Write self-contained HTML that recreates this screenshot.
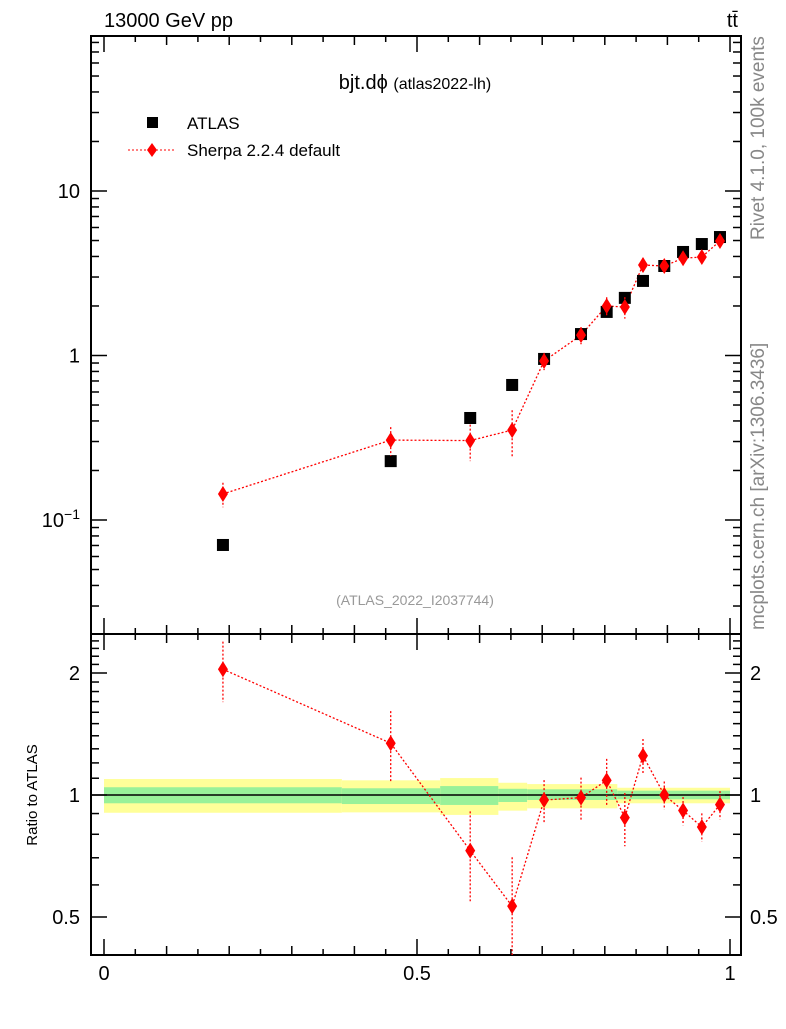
<!DOCTYPE html>
<html><head><meta charset="utf-8"><style>
body{margin:0;background:#fff}
svg text{font-family:"Liberation Sans",sans-serif}
</style></head><body>
<svg id="c" width="786" height="1024" xmlns="http://www.w3.org/2000/svg">
<rect width="786" height="1024" fill="#fff"/>
<g id="bands"></g><g id="axes"></g><g id="marks"></g>
<text x="104" y="27" font-size="20">13000 GeV pp</text>
<text x="738" y="27" font-size="20" text-anchor="end">tt̄</text>
<text x="415" y="89" font-size="20" text-anchor="middle">bjt.dϕ <tspan font-size="16">(atlas2022-lh)</tspan></text>
<rect x="147" y="117" width="11" height="11" fill="#000"/>
<text x="187" y="129" font-size="17">ATLAS</text>
<line x1="128" y1="150" x2="176" y2="150" stroke="red" stroke-dasharray="2,2"/>
<path d="M152 143 L157 150 L152 157 L147 150Z" fill="red"/>
<text x="187" y="156" font-size="17">Sherpa 2.2.4 default</text>
<text x="415" y="605" font-size="14" fill="#999" text-anchor="middle">(ATLAS_2022_I2037744)</text>
<text transform="translate(764,240) rotate(-90)" font-size="19" fill="#888">Rivet 4.1.0,  100k events</text>
<text transform="translate(764,630) rotate(-90)" font-size="19" fill="#888">mcplots.cern.ch [arXiv:1306.3436]</text>
<text transform="translate(37,795) rotate(-90)" font-size="15" text-anchor="middle">Ratio to ATLAS</text>
</svg>
<script>
const xs=[0.19,0.458,0.585,0.652,0.703,0.762,0.803,0.832,0.861,0.895,0.925,0.955,0.984];
const atlas=[0.0705,0.228,0.417,0.662,0.953,1.35,1.84,2.24,2.84,3.50,4.26,4.76,5.25];
const sherpa=[0.144,0.306,0.304,0.352,0.926,1.33,2.0,1.97,3.55,3.5,3.9,3.97,4.97];
const sherpaErr=[0.17,0.2,0.25,0.32,0.12,0.12,0.13,0.15,0.1,0.08,0.08,0.08,0.08];
const bandEdges=[0,0.38,0.537,0.63,0.676,0.82,1];
const yelHi=[1.095,1.087,1.101,1.072,1.064,1.042];
const yelLo=[0.904,0.906,0.893,0.915,0.927,0.954];
const grnHi=[1.045,1.039,1.052,1.036,1.033,1.025];
const grnLo=[0.954,0.950,0.945,0.961,0.972,0.976];
const xTicks=['0','0.5','1'];
const mainTickLabels=['10','1'];

const NS='http://www.w3.org/2000/svg';
const L=91,R=741,T=36,MB=634,RB=955;
const X=v=>104+v*626;
const Y=v=>191-(Math.log10(v)-1)*164.5;
const RY=v=>795-Math.log2(v)*122;
function mk(tag,attrs,parent){const e=document.createElementNS(NS,tag);for(const k in attrs)e.setAttribute(k,attrs[k]);document.getElementById(parent).appendChild(e);return e;}
for(let i=0;i<bandEdges.length-1;i++){
 const x1=X(bandEdges[i]),x2=X(bandEdges[i+1]);
 let r=mk('rect',{x:x1,y:RY(yelHi[i]),width:x2-x1,height:RY(yelLo[i])-RY(yelHi[i]),fill:'#ffff99'},'bands');
 
 
 r=mk('rect',{x:x1,y:RY(grnHi[i]),width:x2-x1,height:RY(grnLo[i])-RY(grnHi[i]),fill:'#99f199'},'bands');
 
 
}
let ln=mk('line',{x1:L,x2:R,y1:RY(1),y2:RY(1),stroke:'#000','stroke-width':1.5},'bands');


for(const [t,b,n] of [[T,MB,'main-frame'],[MB,RB,'ratio-frame']]){
 const f=mk('rect',{x:L,y:t,width:R-L,height:b-t,fill:'none',stroke:'#000','stroke-width':2},'axes');
 
 
}
function tick(x1,y1,x2,y2){mk('line',{x1,y1,x2,y2,stroke:'#000','stroke-width':1.5},'axes');}
for(let k=0;k<=20;k++){const v=k*0.05,x=X(v),len=(k%10==0)?16:(k%2==0?9:6);
 for(const [t,b] of [[T,MB],[MB,RB]]){tick(x,b,x,b-len);tick(x,t,x,t+len);}}
xTicks.forEach(s=>{const t=mk('text',{x:X(parseFloat(s)),y:980,'font-size':20,'text-anchor':'middle'},'axes');t.textContent=s;
 
 });
for(let d=-2;d<=1;d++)for(let m=1;m<=9;m++){const v=m*Math.pow(10,d),y=Y(v);if(y<T||y>MB)continue;const len=m==1?16:8;tick(L,y,L+len,y);tick(R,y,R-len,y);}
mainTickLabels.forEach(s=>{const t=mk('text',{x:80,y:Y(parseFloat(s))+7,'font-size':20,'text-anchor':'end'},'axes');t.textContent=s;
 
 });
let t10=mk('text',{x:80,y:Y(0.1)+7,'font-size':20,'text-anchor':'end'},'axes');t10.innerHTML='10<tspan dy="-8" font-size="14">−1</tspan>';


[0.4,0.5,0.6,0.7,0.8,0.9,1,1.1,1.2,1.3,1.4,1.5,1.6,1.7,1.8,1.9,2,2.1,2.2,2.3,2.4].forEach(v=>{const y=RY(v);if(y<MB||y>RB)return;const len=(v==0.5||v==1||v==2)?16:8;tick(L,y,L+len,y);tick(R,y,R-len,y);});
[['2',2],['1',1],['0.5',0.5]].forEach(([s,v])=>{for(const [x,a] of [[80,'end'],[750,'start']]){const t=mk('text',{x,y:RY(v)+7,'font-size':20,'text-anchor':a},'axes');t.textContent=s;
 
 }});
function diamond(x,y,name){const p=mk('path',{d:`M${x} ${y-8}L${x+5} ${y}L${x} ${y+8}L${x-5} ${y}Z`,fill:'red'},'marks');
 }
function errbar(x,y1,y2,top,bot){y1=Math.max(Math.min(y1,bot),top);y2=Math.max(Math.min(y2,bot),top);mk('line',{x1:x,x2:x,y1,y2,stroke:'red','stroke-dasharray':'2,2','stroke-width':1.3},'marks');}
let pts=xs.map((x,i)=>X(x)+','+Y(sherpa[i])).join(' ');
let pl=mk('polyline',{points:pts,fill:'none',stroke:'red','stroke-dasharray':'2,2','stroke-width':1.3},'marks');


xs.forEach((x,i)=>{const s=mk('rect',{x:X(x)-6,y:Y(atlas[i])-6,width:12,height:12,fill:'#000'},'marks');
 
 });
xs.forEach((x,i)=>{errbar(X(x),Y(sherpa[i]*(1+sherpaErr[i])),Y(sherpa[i]*(1-sherpaErr[i])),T,MB);diamond(X(x),Y(sherpa[i]),'sherpa-point');});
const ratio=sherpa.map((s,i)=>s/atlas[i]);
pts=xs.map((x,i)=>X(x)+','+RY(ratio[i])).join(' ');
pl=mk('polyline',{points:pts,fill:'none',stroke:'red','stroke-dasharray':'2,2','stroke-width':1.3},'marks');


xs.forEach((x,i)=>{errbar(X(x),RY(ratio[i]*(1+sherpaErr[i])),RY(ratio[i]*(1-sherpaErr[i])),MB,RB);diamond(X(x),RY(ratio[i]),'ratio-point');});
</script>
</body></html>
